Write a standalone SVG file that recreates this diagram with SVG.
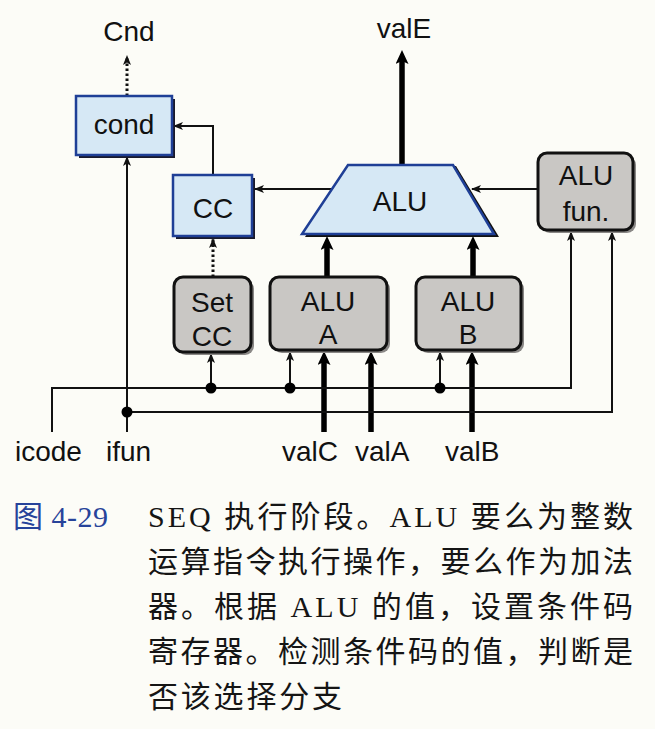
<svg xmlns="http://www.w3.org/2000/svg" width="655" height="729" viewBox="0 0 655 729">
<style>
.lbl{font-family:"Liberation Sans",Arial,sans-serif;font-size:28px;fill:#111;text-anchor:middle}
.lbll{font-family:"Liberation Sans",Arial,sans-serif;font-size:28px;fill:#111}
.blue{fill:#d6e8f5;stroke:#1f3f96;stroke-width:2.5}
.bshadow{fill:#1a1a2a}
.gray{fill:#c9c7c4;stroke:#111;stroke-width:3}
.gshadow{fill:#8a8886}
.thin{fill:none;stroke:#111;stroke-width:2}
.thick{fill:none;stroke:#000;stroke-width:5.5}
.dot{fill:none;stroke:#111;stroke-width:3;stroke-dasharray:2.5 2.5}
.cap{font-family:"Liberation Serif","Noto Sans CJK SC",serif;font-size:30px;fill:#151515}
.capn{font-family:"Liberation Serif","Noto Sans CJK SC",serif;font-size:30px;fill:#27439a}
</style>
<defs>
<marker id="ah" viewBox="0 0 10 8" refX="9" refY="4" markerWidth="10" markerHeight="8" orient="auto" markerUnits="userSpaceOnUse">
<path d="M0,0 L10,4 L0,8 L2.5,4 z" fill="#111"/>
</marker>
<marker id="ahk" viewBox="0 0 14 13" refX="4" refY="6.5" markerWidth="14" markerHeight="13" orient="auto" markerUnits="userSpaceOnUse">
<path d="M0,0 L14,6.5 L0,13 L3,6.5 z" fill="#000"/>
</marker>
</defs>
<rect x="0" y="0" width="655" height="729" fill="#fcfcf7"/>

<g id="connectors">
<!-- cond -> Cnd -->
<line class="dot" x1="127" y1="96" x2="127" y2="56" marker-end="url(#ah)"/>
<!-- CC -> cond -->
<polyline class="thin" points="213,175 213,126 174,126" marker-end="url(#ah)"/>
<!-- ALU -> CC -->
<line class="thin" x1="332" y1="189" x2="255" y2="189" marker-end="url(#ah)"/>
<!-- ALU fun -> ALU -->
<line class="thin" x1="538" y1="189" x2="472" y2="189" marker-end="url(#ah)"/>
<!-- ALU -> valE -->
<line class="thick" x1="402" y1="165" x2="402" y2="60" marker-end="url(#ahk)"/>
<!-- Set CC -> CC -->
<line class="dot" x1="213" y1="277" x2="213" y2="239" marker-end="url(#ah)"/>
<!-- ALU A -> ALU -->
<line class="thick" x1="327" y1="277" x2="327" y2="246" marker-end="url(#ahk)"/>
<!-- ALU B -> ALU -->
<line class="thick" x1="473" y1="277" x2="473" y2="246" marker-end="url(#ahk)"/>
<!-- valC, valA, valB -->
<line class="thick" x1="324" y1="432" x2="324" y2="361" marker-end="url(#ahk)"/>
<line class="thick" x1="371" y1="432" x2="371" y2="361" marker-end="url(#ahk)"/>
<line class="thick" x1="472" y1="432" x2="472" y2="361" marker-end="url(#ahk)"/>
<!-- icode bus -->
<polyline class="thin" points="52,432 52,388 571,388 571,232" marker-end="url(#ah)"/>
<!-- ifun bus -->
<line class="thin" x1="127" y1="432" x2="127" y2="157" marker-end="url(#ah)"/>
<polyline class="thin" points="127,412 612,412 612,232" marker-end="url(#ah)"/>
<!-- taps -->
<line class="thin" x1="211" y1="388" x2="211" y2="354" marker-end="url(#ah)"/>
<line class="thin" x1="290" y1="388" x2="290" y2="352" marker-end="url(#ah)"/>
<line class="thin" x1="440" y1="388" x2="440" y2="352" marker-end="url(#ah)"/>
<circle cx="211" cy="388" r="5.5" fill="#000"/>
<circle cx="290" cy="388" r="5.5" fill="#000"/>
<circle cx="440" cy="388" r="5.5" fill="#000"/>
<circle cx="127" cy="412" r="5.5" fill="#000"/>
</g>

<g id="cond">
<rect class="bshadow" x="79" y="99" width="96" height="59"/>
<rect class="blue" x="76" y="96" width="96" height="59"/>
<text class="lbl" x="124" y="134">cond</text>
</g>

<g id="CC">
<rect class="bshadow" x="176" y="178" width="79" height="61"/>
<rect class="blue" x="173" y="175" width="79" height="61"/>
<text class="lbl" x="213" y="218">CC</text>
</g>

<g id="ALU">
<polygon points="351,166 456,166 499,237 305,237" fill="#111"/>
<polygon class="blue" points="348,165 453,165 494,234 302,234"/>
<text class="lbl" x="400" y="211">ALU</text>
</g>

<g id="ALUfun">
<rect class="gshadow" x="541" y="156" width="95" height="77" rx="9"/>
<rect class="gray" x="538" y="153" width="95" height="77" rx="9"/>
<text class="lbl" x="586" y="185">ALU</text>
<text class="lbl" x="586" y="221">fun.</text>
</g>

<g id="SetCC">
<rect class="gshadow" x="177" y="280" width="77" height="75" rx="9"/>
<rect class="gray" x="174" y="277" width="77" height="75" rx="9"/>
<text class="lbl" x="212" y="312">Set</text>
<text class="lbl" x="212" y="346">CC</text>
</g>

<g id="ALUA">
<rect class="gshadow" x="273" y="280" width="117" height="73" rx="9"/>
<rect class="gray" x="270" y="277" width="117" height="73" rx="9"/>
<text class="lbl" x="328" y="311">ALU</text>
<text class="lbl" x="328" y="344">A</text>
</g>

<g id="ALUB">
<rect class="gshadow" x="419" y="280" width="105" height="73" rx="9"/>
<rect class="gray" x="416" y="277" width="105" height="73" rx="9"/>
<text class="lbl" x="468" y="311">ALU</text>
<text class="lbl" x="468" y="344">B</text>
</g>

<g id="labels">
<text class="lbl" x="129" y="41">Cnd</text>
<text class="lbl" x="404" y="38">valE</text>
<text class="lbll" x="15" y="461">icode</text>
<text class="lbll" x="106" y="461">ifun</text>
<text class="lbll" x="282" y="461">valC</text>
<text class="lbll" x="355" y="461">valA</text>
<text class="lbll" x="445" y="461">valB</text>
</g>

<g id="caption">
<text class="capn" x="13" y="527" textLength="95" lengthAdjust="spacing">图 4-29</text>
<text class="cap" x="148" y="527" textLength="485" lengthAdjust="spacing">SEQ 执行阶段。ALU 要么为整数</text>
<text class="cap" x="148" y="572" textLength="485" lengthAdjust="spacing">运算指令执行操作，要么作为加法</text>
<text class="cap" x="148" y="617" textLength="485" lengthAdjust="spacing">器。根据 ALU 的值，设置条件码</text>
<text class="cap" x="148" y="662" textLength="485" lengthAdjust="spacing">寄存器。检测条件码的值，判断是</text>
<text class="cap" x="148" y="707" textLength="194" lengthAdjust="spacing">否该选择分支</text>
</g>
</svg>
